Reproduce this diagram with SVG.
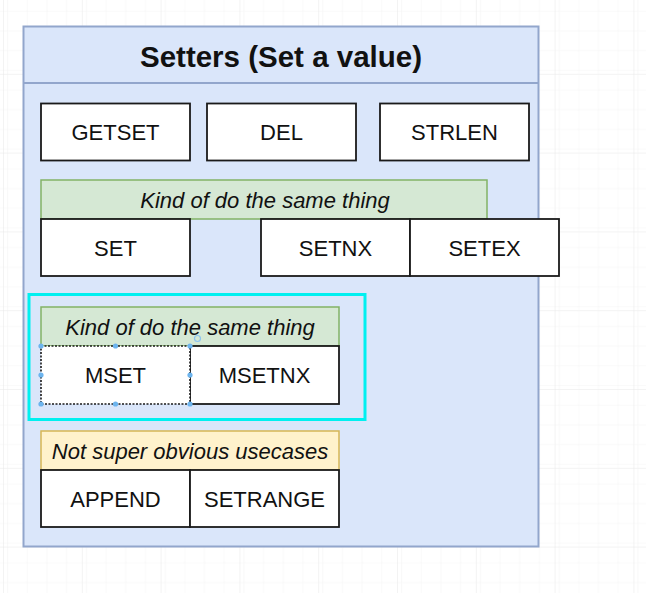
<svg xmlns="http://www.w3.org/2000/svg" width="646" height="593" viewBox="0 0 646 593">
<defs>
<pattern id="minor" x="4" y="-4" width="19.7" height="19.7" patternUnits="userSpaceOnUse">
<path d="M19.7 0 V19.7 M0 19.7 H19.7" fill="none" stroke="#f4f4f4" stroke-width="1"/>
</pattern>
<pattern id="major" x="4" y="-4" width="78.8" height="78.8" patternUnits="userSpaceOnUse">
<rect width="78.8" height="78.8" fill="url(#minor)"/>
<path d="M78.8 0 V78.8 M0 78.8 H78.8" fill="none" stroke="#e8e8e8" stroke-width="1"/>
</pattern>
<style>
.box{fill:#ffffff;stroke:#1a1a1a;stroke-width:1.8}
.lbl{font-family:"Liberation Sans",Arial,sans-serif;font-size:22px;fill:#111;text-anchor:middle}
.it{font-style:italic}
.green{fill:#d5e8d4;stroke:#82b366;stroke-width:1.5}
.yellow{fill:#fff2cc;stroke:#d6b656;stroke-width:1.5}
.hdl{fill:#6cb4ee}
</style>
</defs>
<rect width="646" height="593" fill="#ffffff"/>
<rect width="646" height="593" fill="url(#major)"/>

<g id="container">
<rect x="23.5" y="26.5" width="515" height="520" fill="#dae6fa" stroke="#92a6cc" stroke-width="2"/>
<line x1="23.5" y1="83" x2="538.5" y2="83" stroke="#92a6cc" stroke-width="2"/>
<text x="281" y="66.5" font-family="'Liberation Sans',Arial,sans-serif" font-size="29.5" font-weight="bold" fill="#111" text-anchor="middle">Setters (Set a value)</text>
</g>

<g id="getset"><rect class="box" x="41" y="103.5" width="149" height="57"/><text class="lbl" x="115.5" y="140">GETSET</text></g>
<g id="del"><rect class="box" x="207" y="103.5" width="149" height="57"/><text class="lbl" x="281.5" y="140">DEL</text></g>
<g id="strlen"><rect class="box" x="380" y="103.5" width="149" height="57"/><text class="lbl" x="454.5" y="140">STRLEN</text></g>

<g id="band1"><rect class="green" x="41" y="180" width="446" height="39"/><text class="lbl it" x="265" y="207.5">Kind of do the same thing</text></g>
<g id="set"><rect class="box" x="41" y="219" width="149" height="57"/><text class="lbl" x="115.5" y="256">SET</text></g>
<g id="setnx"><rect class="box" x="261" y="219" width="149" height="57"/><text class="lbl" x="335.5" y="256">SETNX</text></g>
<g id="setex"><rect class="box" x="410" y="219" width="149" height="57"/><text class="lbl" x="484.5" y="256">SETEX</text></g>

<g id="selection"><rect x="29" y="294.5" width="336" height="125" fill="none" stroke="#00f0f0" stroke-width="3"/></g>

<g id="band2"><rect class="green" x="41" y="307" width="298" height="39"/><text class="lbl it" x="190" y="334.5">Kind of do the same thing</text></g>
<g id="msetnx"><rect class="box" x="190" y="346" width="149" height="58"/><text class="lbl" x="264.5" y="383">MSETNX</text></g>
<g id="mset"><rect x="41" y="346" width="149" height="58" fill="#ffffff" stroke="#1a1a1a" stroke-width="1.6" stroke-dasharray="2 1.5"/><text class="lbl" x="115.5" y="383">MSET</text>
<circle class="hdl" cx="41" cy="346" r="2.6"/><circle class="hdl" cx="115.5" cy="346" r="2.6"/><circle class="hdl" cx="190" cy="346" r="2.6"/>
<circle class="hdl" cx="41" cy="375" r="2.6"/><circle class="hdl" cx="190" cy="375" r="2.6"/>
<circle class="hdl" cx="41" cy="404" r="2.6"/><circle class="hdl" cx="115.5" cy="404" r="2.6"/><circle class="hdl" cx="190" cy="404" r="2.6"/>
<circle cx="197.5" cy="338.5" r="3" fill="none" stroke="#8cc4f0" stroke-width="1.2"/>
</g>

<g id="band3"><rect class="yellow" x="41" y="431" width="298" height="39"/><text class="lbl it" x="190" y="458.5">Not super obvious usecases</text></g>
<g id="append"><rect class="box" x="41" y="470" width="149" height="57"/><text class="lbl" x="115.5" y="506.5">APPEND</text></g>
<g id="setrange"><rect class="box" x="190" y="470" width="149" height="57"/><text class="lbl" x="264.5" y="506.5">SETRANGE</text></g>

<g id="connectors"/>
</svg>
